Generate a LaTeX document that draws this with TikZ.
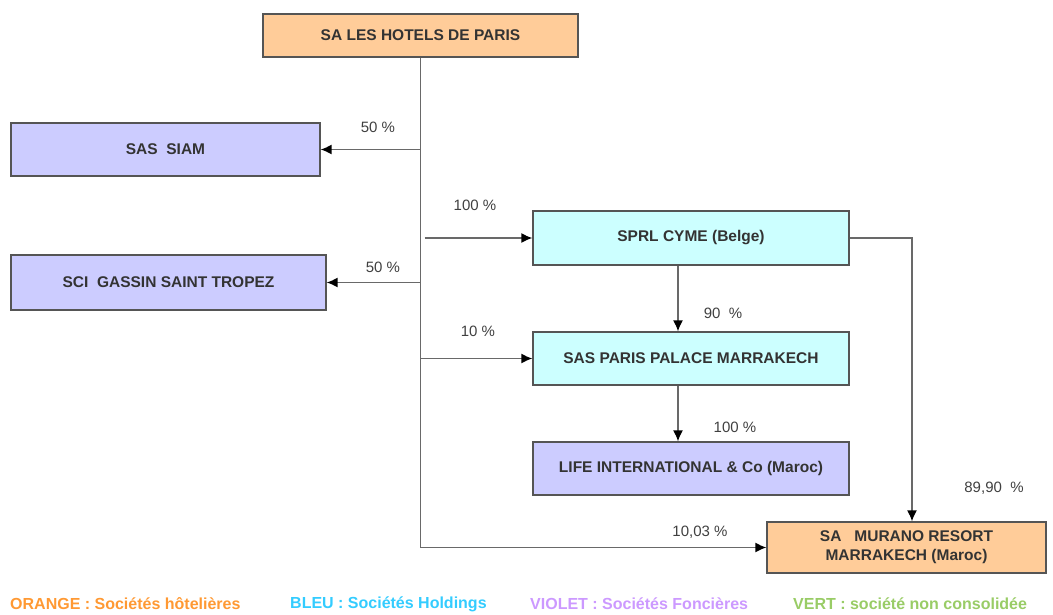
\documentclass[tikz,border=0pt]{standalone}
\usepackage{fontspec}
\setmainfont{Liberation Sans}
\usetikzlibrary{arrows.meta,positioning}
\definecolor{Hotel}{RGB}{255,204,153}
\definecolor{Holding}{RGB}{204,255,255}
\definecolor{Fonciere}{RGB}{204,204,255}
\definecolor{HotelTxt}{RGB}{255,153,51}
\definecolor{HoldingTxt}{RGB}{51,204,255}
\definecolor{FonciereTxt}{RGB}{204,153,255}
\definecolor{VertTxt}{RGB}{153,204,102}
\definecolor{wire}{RGB}{105,105,105}
\definecolor{frame}{RGB}{85,85,85}

\begin{document}
\begin{tikzpicture}[x=1pt,y=-1pt,
    cbox/.style={draw=frame,line width=1.2pt,font=\fontsize{15.5}{19}\selectfont\bfseries,
                 text=black!80,align=center,inner sep=0pt,minimum width=315pt,minimum height=53pt},
    pct/.style={font=\fontsize{15}{16}\selectfont,text=black!75},
    link/.style={draw=wire,line width=1.6pt,-{Latex[length=11pt,width=10pt,black]}},
    legend/.style={font=\fontsize{16}{17}\selectfont\bfseries,anchor=west,inner sep=0pt}]
  \useasboundingbox (0,0) rectangle (1053,614);
  % companies
  \node[cbox,fill=Hotel,minimum height=43pt] (hotels) at (420.5,35.5) {SA LES HOTELS DE PARIS};
  \node[cbox,fill=Fonciere,minimum width=309pt] (siam) at (165.5,149.5) {SAS\ \ SIAM};
  \node[cbox,fill=Fonciere,minimum height=55pt] (gassin) at (168.5,282.5) {SCI\ \ GASSIN SAINT TROPEZ};
  \node[cbox,fill=Holding,minimum width=316pt,minimum height=54pt] (cyme) at (691,238) {SPRL CYME (Belge)};
  \node[cbox,fill=Holding,minimum width=316pt] (palace) at (691,358.5) {SAS PARIS PALACE MARRAKECH};
  \node[cbox,fill=Fonciere,minimum width=316pt] (life) at (691,468.5) {LIFE INTERNATIONAL \& Co (Maroc)};
  \node[cbox,fill=Hotel,minimum width=279pt,minimum height=51pt] (murano) at (906.5,547.5)
       {SA\ \ \ MURANO RESORT\\MARRAKECH (Maroc)};
  % trunk under the parent
  \coordinate (tsiam) at (hotels.south |- siam.east);
  \coordinate (tcyme) at ([xshift=4pt]hotels.south |- cyme.west);
  \coordinate (tgassin) at (hotels.south |- gassin.east);
  \coordinate (tpalace) at (hotels.south |- palace.west);
  \coordinate (tmurano) at (hotels.south |- murano.west);
  \coordinate (cbend) at (912,238);
  \draw[wire,line width=1.6pt] (hotels.south) -- (tmurano);
  \draw[link] (tsiam) -- (siam.east);
  \draw[link] (tcyme) -- (cyme.west);
  \draw[link] (tgassin) -- (gassin.east);
  \draw[link] (tpalace) -- (palace.west);
  \draw[link] (tmurano) -- (murano.west);
  \draw[link] ([xshift=-13pt]cyme.south) -- ([xshift=-13pt]palace.north);
  \draw[link] ([xshift=-13pt]palace.south) -- ([xshift=-13pt]life.north);
  \draw[link] (cyme.east) -- (cbend) -- (cbend |- murano.north);
  % shares
  \node[pct] (p1) at (378,127) {50 \%};
  \node[pct] (p2) at (475,205) {100 \%};
  \node[pct] (p3) at (383,267) {50 \%};
  \node[pct] (p4) at (478,331) {10 \%};
  \node[pct] (p5) at (723,313) {90\ \ \%};
  \node[pct] (p6) at (735,427) {100 \%};
  \node[pct] (p7) at (994,488) {89,90\ \ \%};
  \node[pct] (p8) at (700,532) {10,03 \%};
  % legend
  \node[legend,text=HotelTxt] (lg1) at (10,604) {ORANGE : Sociétés hôtelières};
  \node[legend,text=HoldingTxt] (lg2) at (290,604) {BLEU : Sociétés Holdings};
  \node[legend,text=FonciereTxt] (lg3) at (530,604) {VIOLET : Sociétés Foncières};
  \node[legend,text=VertTxt] (lg4) at (793,604) {VERT : société non consolidée};
\end{tikzpicture}
\end{document}
